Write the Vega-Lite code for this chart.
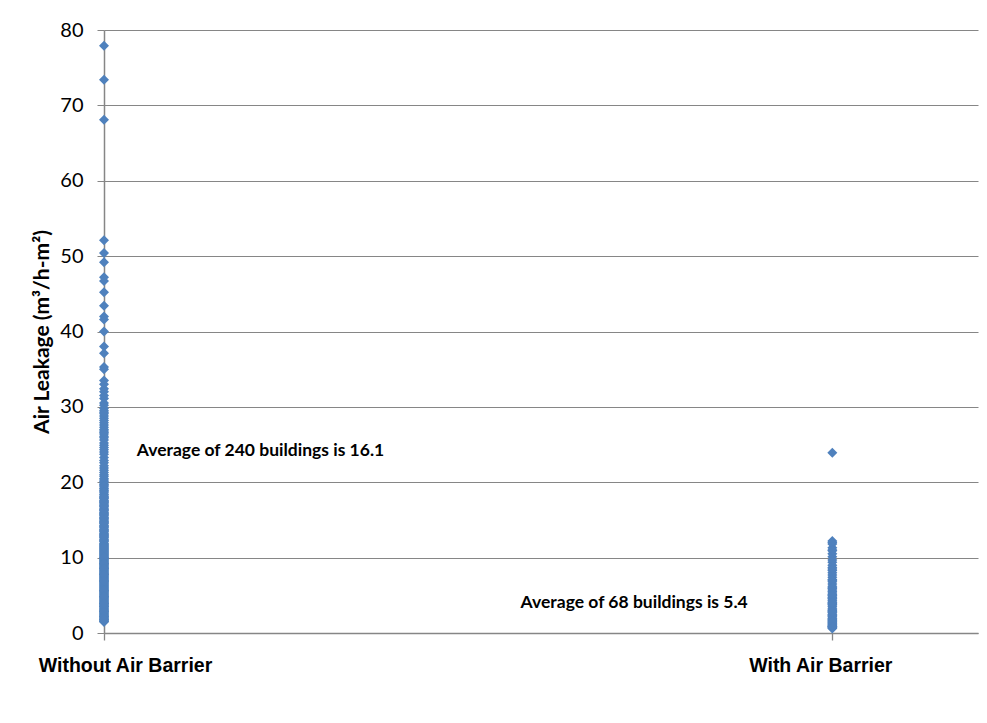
{
  "$schema": "https://vega.github.io/schema/vega-lite/v6.json",
  "autosize": {"type": "none"},
  "width": 874,
  "height": 603,
  "padding": {"left": 104, "top": 30, "right": 9, "bottom": 90},
  "background": "white",
  "config": {"view": {"stroke": null}},
  "datasets": {
    "without": [77.9,73.4,68.1,52.1,50.4,49.2,47.2,46.7,45.2,43.4,42.0,41.6,40.0,
      38.0,37.1,35.3,35.0,33.5,33.0,32.4,32.0,31.5,31.1,30.5,30.2,
      29.8,29.5,29.1,28.8,28.5,28.2,27.9,27.6,27.3,27.0,26.8,26.4,26.1,25.9,25.6,25.2,24.9,24.6,24.3,23.7,23.3,22.9,22.6,22.2,21.9,21.6,21.3,21.0,20.8,20.5,20.3,20.1,29.3,26.6,24.0,
      19.9,19.7,19.6,19.4,19.2,19.1,18.9,18.8,18.6,18.4,
      18.3,18.1,17.9,17.8,17.6,17.5,17.3,17.2,17.0,16.8,
      16.7,16.5,16.4,16.2,16.0,15.9,15.7,15.6,15.4,15.2,
      15.1,14.9,14.8,14.6,14.5,14.3,14.1,14.0,13.8,13.7,
      13.5,13.4,13.2,13.0,12.9,12.7,12.6,12.4,12.2,12.1,
      11.9,11.8,11.7,11.5,11.4,11.2,11.1,10.9,10.8,10.7,
      10.5,10.4,10.3,10.1,10.0,9.9,9.7,9.6,9.5,9.3,
      9.2,9.1,8.9,8.8,8.7,8.6,8.4,8.3,8.2,8.0,
      7.9,7.8,7.7,7.5,7.4,7.3,7.2,7.0,6.9,6.8,
      6.7,6.6,6.4,6.3,6.2,6.1,6.0,5.8,5.7,5.6,
      5.5,5.4,5.3,5.1,5.0,4.9,4.8,4.7,4.6,4.5,
      4.3,4.2,4.1,4.0,3.9,3.8,3.7,3.6,3.5,3.4,
      3.3,3.2,3.1,3.0,2.9,2.8,2.7,2.6,2.5,2.4,
      2.3,2.2,2.1,2.0,1.9,1.8,1.7,1.6,1.5,1.5,
      12.3,11.6,11.0,10.6,10.2,9.8,9.4,9.0,8.5,8.1,
      7.6,7.1,6.5,5.9,5.2,4.4,3.5,2.9,2.2,1.8,
      13.1,13.6,14.2,14.7,15.3,15.8,16.3,16.9,17.4,18.0,
      12.8,11.3,10.0,9.2,8.6,7.8,6.9,5.6,4.8,3.9],
    "with": [23.9,12.2,11.8,11.3,10.9,10.5,10.1,9.4,9.0,8.7,8.3,
      8.0,7.7,7.4,7.1,6.8,6.5,6.2,5.9,5.7,5.5,
      5.3,5.1,4.9,4.7,4.5,4.3,4.1,3.9,3.7,3.5,
      3.3,3.1,2.9,2.7,2.5,2.4,2.2,2.0,1.9,1.7,
      1.6,1.4,1.3,1.1,1.0,0.9,0.8,0.7,0.6,
      12.0,11.0,9.7,8.5,7.0,6.0,4.6,3.8,3.0,2.3,
      1.8,1.2,0.9,5.0,4.0,2.8,1.5,0.8],
    "notes": [
      {"pos": 0.045, "value": 24.1, "label": "Average of 240 buildings is 16.1"},
      {"pos": 0.572, "value": 4.0, "label": "Average of 68 buildings is 5.4"}
    ]
  },
  "layer": [
    {
      "data": {"name": "without"},
      "transform": [{"calculate": "0", "as": "barrier"}, {"calculate": "datum.data", "as": "leakage"}],
      "mark": {"type": "point", "shape": "diamond", "filled": true, "size": 100, "color": "#4F81BD", "opacity": 1},
      "encoding": {
        "x": {"field": "barrier", "type": "quantitative", "scale": {"domain": [0, 1.2], "nice": false, "zero": false},
          "axis": {"values": [0, 1], "grid": false, "domainColor": "#868686", "domainWidth": 1.3, "tickColor": "#868686", "tickSize": 7, "tickWidth": 1.3,
            "labelExpr": "datum.value == 0 ? 'Without Air Barrier' : 'With Air Barrier'",
            "labelFont": "Liberation Sans", "labelFontWeight": "bold", "labelFontSize": 19.5, "labelColor": "#000000",
            "labelPadding": 16, "labelBaseline": "top", "labelFlush": false, "labelAlign": "center",
            "labelOffset": {"condition": {"test": "datum.value == 0", "value": 21}, "value": -12},
            "title": null}},
        "y": {"field": "leakage", "type": "quantitative", "scale": {"domain": [0, 80], "nice": false},
          "axis": {"values": [0, 10, 20, 30, 40, 50, 60, 70, 80], "grid": true, "gridColor": "#868686", "gridWidth": 1,
            "domainColor": "#868686", "domainWidth": 1.5, "tickColor": "#868686", "tickSize": 7, "tickWidth": 1,
            "labelFont": "Lato", "labelFontSize": 20, "labelColor": "#000000", "labelPadding": 14,
            "title": "Air Leakage (m³/h-m²)", "titleFont": "Lato", "titleFontWeight": "bold", "titleFontSize": 21, "titleColor": "#000000", "titlePadding": 7}}
      }
    },
    {
      "data": {"name": "with"},
      "transform": [{"calculate": "1", "as": "barrier"}, {"calculate": "datum.data", "as": "leakage"}],
      "mark": {"type": "point", "shape": "diamond", "filled": true, "size": 100, "color": "#4F81BD", "opacity": 1},
      "encoding": {
        "x": {"field": "barrier", "type": "quantitative"},
        "y": {"field": "leakage", "type": "quantitative"}
      }
    },
    {
      "data": {"name": "notes"},
      "mark": {"type": "text", "align": "left", "baseline": "middle", "font": "Lato", "fontWeight": "bold", "fontSize": 17.5, "color": "#000000"},
      "encoding": {
        "x": {"field": "pos", "type": "quantitative"},
        "y": {"field": "value", "type": "quantitative"},
        "text": {"field": "label"}
      }
    }
  ]
}
